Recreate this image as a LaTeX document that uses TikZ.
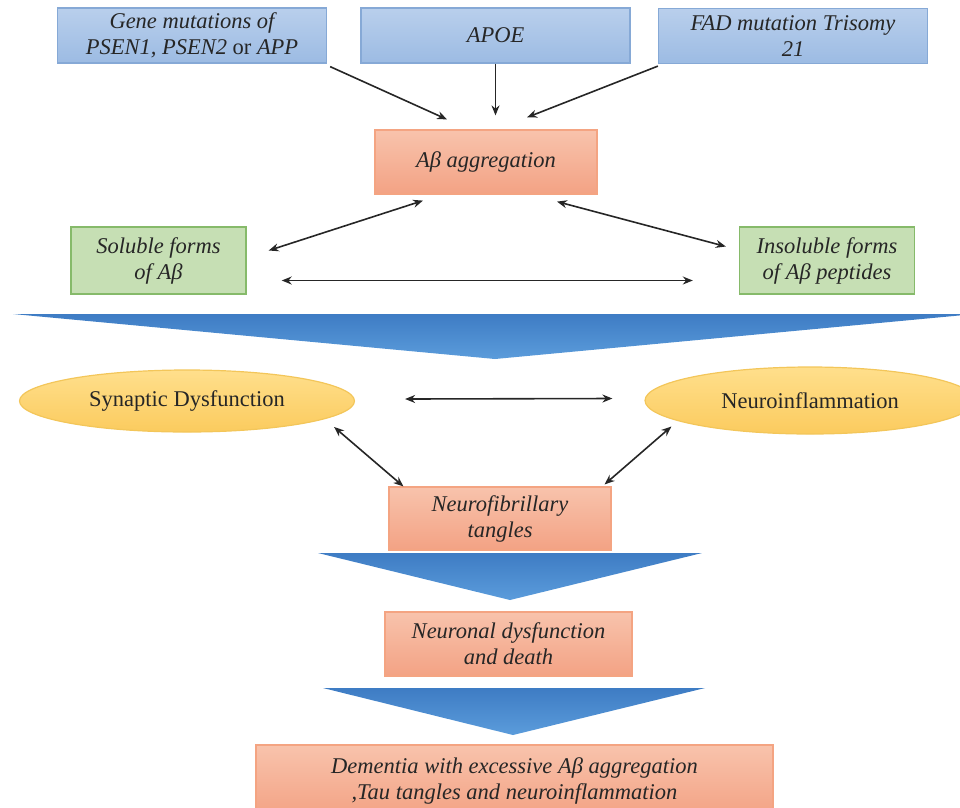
\documentclass[tikz,border=0pt]{standalone}
\usepackage{fontspec}
\setmainfont{Liberation Serif}
\usepackage{tikz}
\definecolor{causetop}{HTML}{B9CFEC}
\definecolor{causebot}{HTML}{9CBBE3}
\definecolor{causeline}{HTML}{86A9D6}
\definecolor{stagetop}{HTML}{F8C3AC}
\definecolor{stagebot}{HTML}{F3A284}
\definecolor{stageline}{HTML}{F4A482}
\definecolor{formfill}{HTML}{C6DFB4}
\definecolor{formline}{HTML}{86BA6A}
\definecolor{effecttop}{HTML}{FFDF8C}
\definecolor{effectbot}{HTML}{FBCB5E}
\definecolor{effectline}{HTML}{F3C65A}
\definecolor{chevtop}{HTML}{3E7CC4}
\definecolor{chevbot}{HTML}{5B9CDB}
\usetikzlibrary{positioning, arrows, arrows.meta, shapes.geometric}
\tikzstyle{arrow} = [-{Stealth[length=10pt,width=8pt]},line width=1.6pt,draw=black!85]

\begin{document}
\begin{tikzpicture}[x=1pt,y=-1pt]
                    \tikzstyle{every node}=[font=\fontsize{22.5}{26}\selectfont\itshape,
                    align=center, text=black!85] \tikzstyle{cause} =
                    [rectangle, draw=causeline, line width=1.2pt, top color=causetop,
                    bottom color=causebot, minimum width=269, minimum height=55]
                    \tikzstyle{stage} = [rectangle, draw=stageline, line width=1.2pt,
                    top color=stagetop, bottom color=stagebot] \tikzstyle{form} =
                    [rectangle, draw=formline, line width=1.4pt, fill=formfill,
                    minimum width=175, minimum height=67] \tikzstyle{effect} =
                    [ellipse, draw=effectline, line width=1.2pt, top color=effecttop,
                    bottom color=effectbot, font=\fontsize{22.5}{26}\selectfont]
                    \tikzstyle{edge} = [{Stealth[length=10pt,width=8pt]}-{Stealth[length=10pt,width=8pt]},
                    line width=1.6pt, draw=black!85]
                    \tikzstyle{chevron} = [top color=chevtop, bottom color=chevbot]

                    \clip (0,0) rectangle (960,807);

                    \node[cause](g1) at (192,35.5) {Gene mutations of\\PSEN1, PSEN2 {\upshape or} APP};
                    \node[cause](g2) at (495.5,35.5) {APOE};
                    \node[cause](g3) at (793,36) {FAD mutation Trisomy\\21};

                    \node[stage, minimum width=222, minimum height=64](a1) at (486,162) {Aβ aggregation};

                    \draw[arrow] ([shift={(3,3)}]g1.south east) -- ([shift={(-39,-10)}]a1.north);
                    \draw[arrow] (g2.south) -- ([shift={(9.5,-14)}]a1.north);
                    \draw[arrow] ([shift={(0,2)}]g3.south west) -- ([shift={(41,-12)}]a1.north);

                    \node[form](s1) at (158.5,260.5) {Soluble forms\\of Aβ};
                    \node[form](s2) at (827,260.5) {Insoluble forms\\of Aβ peptides};

                    \draw[edge] ([shift={(-63,6)}]a1.south) -- ([shift={(22,-10)}]s1.east);
                    \draw[edge] ([shift={(71,7)}]a1.south) -- ([shift={(-13,-14)}]s2.west);
                    \draw[edge] ([shift={(35,20)}]s1.east) -- ([shift={(-46,20)}]s2.west);

                    \shade[chevron] (13,314) -- (975,314) -- (495,359) -- cycle;

                    \node[effect, minimum width=335, minimum height=62](e1) at (187,401) {Synaptic Dysfunction};
                    \node[effect, minimum width=330, minimum height=67](e2) at (810,400.5) {Neuroinflammation};

                    \node[stage, minimum width=222, minimum height=63](t1) at (500,518.5) {Neurofibrillary\\tangles};

                    \draw[edge] ([shift={(50,-2)}]e1.east) -- ([shift={(-32,-2)}]e2.west);
                    \draw[edge] ([shift={(-21,26)}]e1.east) -- ([shift={(15,0)}]t1.north west);
                    \draw[edge] ([shift={(27,26)}]e2.west) -- ([shift={(-7,-2)}]t1.north east);

                    \shade[chevron] (318,553) -- (702,553) -- (510,600) -- cycle;
                    \node[stage, minimum width=247, minimum height=64](d1) at (508.5,644) {Neuronal dysfunction\\and death};

                    \shade[chevron] (323,688) -- (705,688) -- (513,735) -- cycle;
                    \node[stage, minimum width=517, minimum height=72](d2) at (514.5,781) {Dementia with excessive Aβ aggregation\\,Tau tangles and neuroinflammation};
\end{tikzpicture}
\end{document}
